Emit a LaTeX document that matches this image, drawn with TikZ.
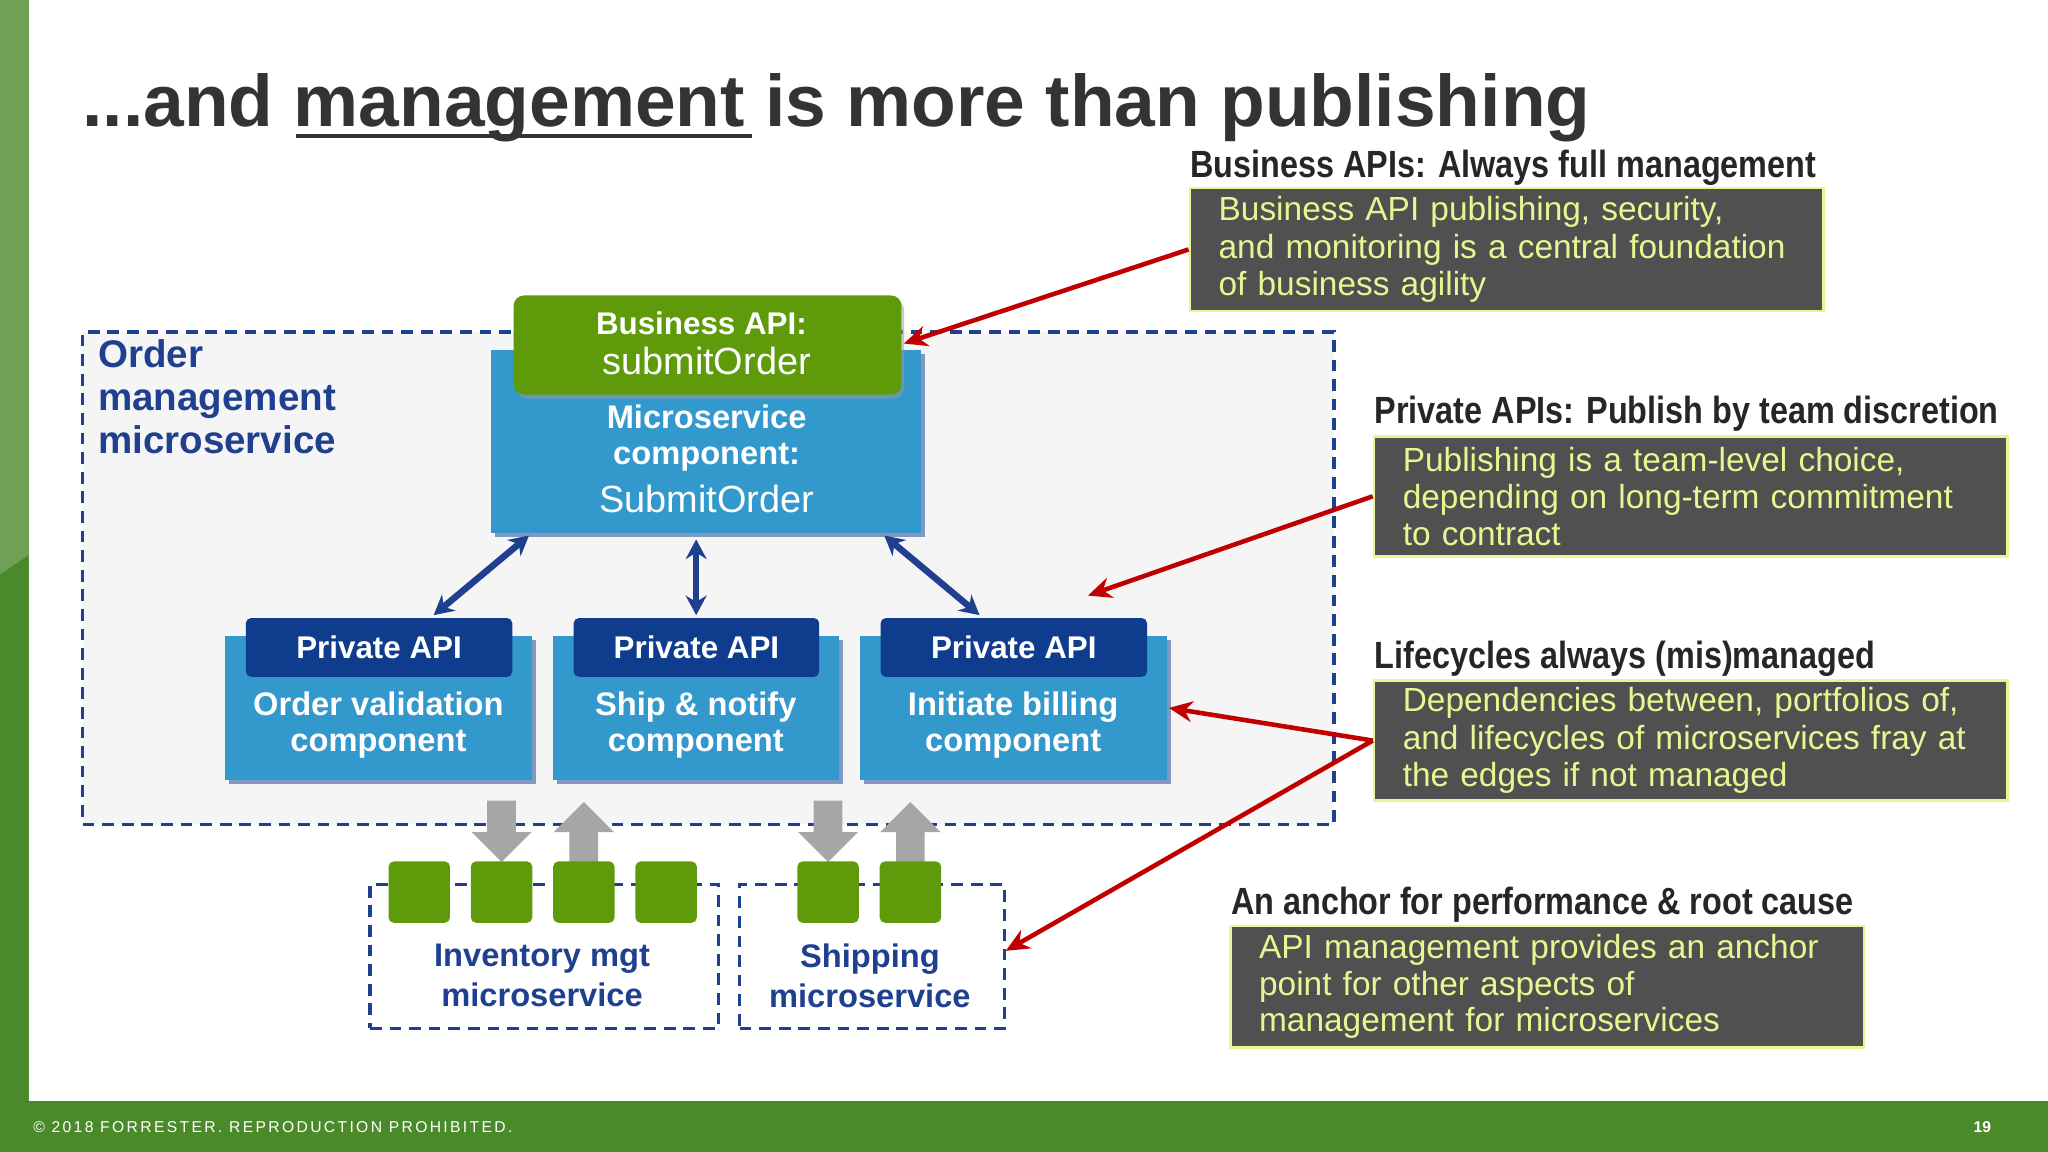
\documentclass[tikz,border=0pt]{standalone}
\usepackage{fontspec}
\setmainfont{Liberation Sans}
\newfontfamily\narrow[FakeStretch=0.855]{Liberation Sans}
\usetikzlibrary{arrows.meta,calc,shadows}
\definecolor{dblue}{HTML}{1F3F8F}
\definecolor{mblue}{HTML}{3399CC}
\definecolor{hblue}{HTML}{0F3C8C}
\definecolor{bgreen}{HTML}{5E9A0A}
\definecolor{fgreen}{HTML}{4A8A2A}
\definecolor{tgrey}{HTML}{505050}
\definecolor{ylw}{HTML}{E8F590}
\definecolor{rred}{HTML}{C00000}
\tikzset{
 comp/.style={fill=mblue,draw=none,drop shadow={shadow xshift=3pt,shadow yshift=-3pt,fill=hblue}},
 hdr/.style={fill=hblue,rounded corners=4pt,text=white,font=\bfseries\fontsize{24}{26}\selectfont,align=center},
 ctext/.style={text=white,font=\bfseries\fontsize{25}{27}\selectfont,align=center},
 dbox/.style={draw=dblue,dashed,line width=2.5pt,dash pattern=on 9pt off 6pt},
 note/.style={fill=tgrey,draw=ylw,line width=2pt,text=ylw,align=left,anchor=north west,inner sep=0pt,font=\fontsize{25.6}{28.5}\selectfont},
 nhead/.style={anchor=base west,font=\narrow\bfseries\fontsize{29}{30}\selectfont,text=black!85},
 dbl/.style={<->,>={Stealth[length=15pt,width=16pt]},draw=dblue,line width=5pt},
 red/.style={->,>={Stealth[length=18pt,width=16pt]},draw=rred,line width=3.5pt},
 gsq/.style={fill=bgreen,draw=none,rounded corners=4pt,minimum width=47pt,minimum height=47pt,inner sep=0pt},
 garr/.style={draw=none,fill=black!35},
}
\begin{document}
\begin{tikzpicture}[x=1pt,y=-1pt]
\useasboundingbox (0,0) rectangle (1568,882);
\fill[white] (0,0) rectangle (1568,882);
\fill[fgreen!80!white] (0,0) rectangle (22,843);
\fill[fgreen] (0,440) -- (22,425) -- (22,843) -- (0,843) -- cycle;
\fill[fgreen] (0,843) rectangle (1568,882);
\node[anchor=base west,text=white,font=\fontsize{12}{12}\selectfont] (foot) at (22,867) {\addfontfeature{LetterSpace=15}© 2018 FORRESTER. REPRODUCTION PROHIBITED.};
\node[anchor=base east,text=white,font=\bfseries\fontsize{12}{12}\selectfont] (pg) at (1528,867) {19};
\node[anchor=base west,text=black!80,font=\bfseries\fontsize{56}{56}\selectfont,inner sep=0pt] (title) at (63,97) {...and management is more than publishing};
\draw[black!80,line width=3.5pt] (227,104) -- (576,104);
% main box
\node[dbox,fill=black!4,minimum width=958pt,minimum height=377pt,anchor=north west,inner sep=0pt] (main) at (62,253) {};
\node[anchor=north west,align=left,text=dblue,font=\bfseries\fontsize{29.5}{33}\selectfont,inner sep=0pt] (om) at (75,260) {Order\\management\\microservice};
% microservice component
\node[comp,minimum width=329pt,minimum height=140pt,anchor=north west,inner sep=0pt] (mc) at (376,268) {};
\node[ctext,anchor=north,inner sep=0pt] (mct) at (541,310) {Microservice\\component:};
\node[text=white,font=\fontsize{29}{30}\selectfont,anchor=base] (mcs) at (541,392) {SubmitOrder};
\node[fill=bgreen,rounded corners=8pt,minimum width=297pt,minimum height=76pt,anchor=north west,inner sep=0pt,drop shadow={shadow xshift=2pt,shadow yshift=-3pt,fill=black!40}] (ba) at (393,226) {};
\node[text=white,font=\bfseries\fontsize{24}{26}\selectfont,anchor=base] (bat) at (537,256) {Business API:};
\node[text=white,font=\fontsize{29}{30}\selectfont,anchor=base] (bas) at (541,287) {submitOrder};
% private components
\foreach \n/\x/\w/\hx/\hw/\t in {p1/172/235/188/204/Order validation,p2/423/219/439/188/Ship \& notify,p3/658/235/674/204/Initiate billing}{
 \node[comp,minimum width=\w pt,minimum height=110pt,anchor=north west,inner sep=0pt] (\n) at (\x,487) {};
 \node[ctext,anchor=center,inner sep=0pt] (\n t) at ($(\n.center)+(0,13)$) {\t\\component};
 \node[hdr,minimum width=\hw pt,minimum height=45pt,anchor=north west,inner sep=0pt] (\n h) at (\hx,473) {Private API};
}
\coordinate (a1s) at (405,410); \coordinate (a1e) at (332,471);
\coordinate (a2s) at (533,413); \coordinate (a2e) at (533,471);
\coordinate (a3s) at (677,410); \coordinate (a3e) at (750,471);
\draw[dbl] (a1s) -- (a1e); \draw[dbl] (a2s) -- (a2e); \draw[dbl] (a3s) -- (a3e);
% grey arrows
\foreach \x/\d in {384/1,447/-1,634/1,697/-1}{
 \ifnum\d=1
 \fill[garr] (\x-11,613) -- (\x+11,613) -- (\x+11,637) -- (\x+23,637) -- (\x,660) -- (\x-23,637) -- (\x-11,637) -- cycle;
 \else
 \fill[garr] (\x-11,660) -- (\x+11,660) -- (\x+11,637) -- (\x+23,637) -- (\x,614) -- (\x-23,637) -- (\x-11,637) -- cycle;
 \fi
}
% lower boxes
\node[dbox,fill=white,minimum width=267pt,minimum height=110pt,anchor=north west,inner sep=0pt] (inv) at (282,676) {};
\node[dbox,fill=white,minimum width=203pt,minimum height=110pt,anchor=north west,inner sep=0pt] (shp) at (565,676) {};
\node[text=dblue,font=\bfseries\fontsize{25}{31}\selectfont,align=center,anchor=north] (invt) at (415,719) {Inventory mgt\\microservice};
\node[text=dblue,font=\bfseries\fontsize{25}{31}\selectfont,align=center,anchor=north] (shpt) at (666,719) {Shipping\\microservice};
\foreach \n/\x in {g1/321,g2/384,g3/447,g4/510,g5/634,g6/697}{\node[gsq] (\n) at (\x,683) {};}
% notes
\node[nhead] (h1) at (908,136) {Business APIs: Always full management};
\node[note,minimum width=485pt,minimum height=94pt,text width=441pt,inner xsep=22pt,inner ysep=6pt] (n1) at (910,143) {Business API publishing, security,\\and monitoring is a central foundation\\of business agility};
\node[nhead] (h2) at (1049,324) {Private APIs: Publish by team discretion};
\node[note,minimum width=485pt,minimum height=92pt,text width=441pt,inner xsep=22pt,inner ysep=5pt] (n2) at (1051,333) {Publishing is a team-level choice,\\depending on long-term commitment\\to contract};
\node[nhead] (h3) at (1049,512) {Lifecycles always (mis)managed};
\node[note,minimum width=485pt,minimum height=92pt,text width=441pt,inner xsep=22pt,inner ysep=5pt] (n3) at (1051,520) {Dependencies between, portfolios of,\\and lifecycles of microservices fray at\\the edges if not managed};
\node[nhead] (h4) at (939,700) {An anchor for performance \& root cause};
\node[note,minimum width=485pt,minimum height=93pt,text width=441pt,inner xsep=22pt,inner ysep=4pt,font=\fontsize{25.6}{28}\selectfont] (n4) at (941,708) {API management provides an anchor\\point for other aspects of\\management for microservices};
% red arrows
\coordinate (r1) at (692,263); \coordinate (r2) at (833,456); \coordinate (r3) at (895,542); \coordinate (r4) at (770,728);
\draw[red] (n1.west) -- (r1);
\draw[red] (n2.west) -- (r2);
\draw[red] (n3.west) -- (r3);
\draw[red] (n3.west) -- (r4);
\end{tikzpicture}
\end{document}
